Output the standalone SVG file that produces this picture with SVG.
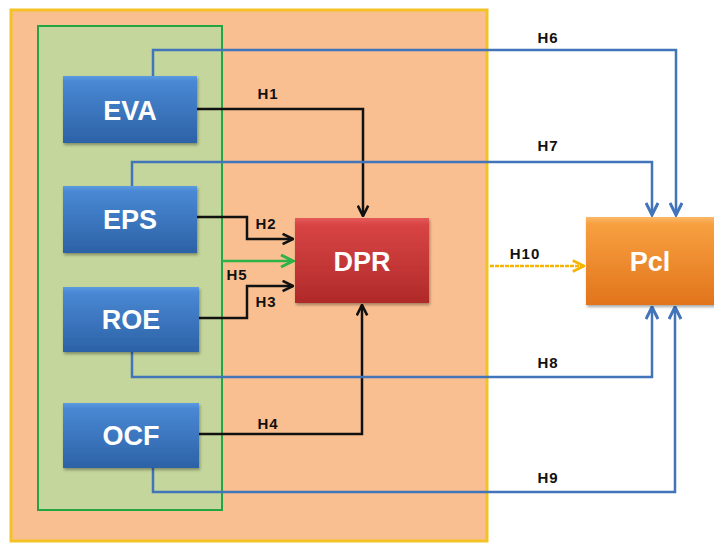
<svg xmlns="http://www.w3.org/2000/svg" width="714" height="544" viewBox="0 0 714 544">
<defs>
<linearGradient id="gBlue" x1="0" y1="0" x2="0" y2="1">
<stop offset="0" stop-color="#5C9BE0"/><stop offset="0.08" stop-color="#4A88D4"/><stop offset="1" stop-color="#2C62A6"/>
</linearGradient>
<linearGradient id="gRed" x1="0" y1="0" x2="0" y2="1">
<stop offset="0" stop-color="#E65A5A"/><stop offset="0.08" stop-color="#D84444"/><stop offset="1" stop-color="#B02A2A"/>
</linearGradient>
<linearGradient id="gOrange" x1="0" y1="0" x2="0" y2="1">
<stop offset="0" stop-color="#FBB868"/><stop offset="0.08" stop-color="#F7A040"/><stop offset="1" stop-color="#E2741C"/>
</linearGradient>
<filter id="sh" x="-10%" y="-10%" width="130%" height="140%">
<feDropShadow dx="1" dy="2" stdDeviation="1.5" flood-color="#000" flood-opacity="0.35"/>
</filter>
<marker id="aBlack" viewBox="0 0 10 10" refX="9" refY="5" markerWidth="13" markerHeight="13" markerUnits="userSpaceOnUse" orient="auto">
<path d="M1,1 L9,5 L1,9" fill="none" stroke="#111" stroke-width="2"/>
</marker>
<marker id="aBlue" viewBox="0 0 10 10" refX="9" refY="5" markerWidth="15" markerHeight="15" markerUnits="userSpaceOnUse" orient="auto">
<path d="M1,1 L9,5 L1,9" fill="none" stroke="#4274BA" stroke-width="2"/>
</marker>
<marker id="aGreen" viewBox="0 0 10 10" refX="9" refY="5" markerWidth="15" markerHeight="15" markerUnits="userSpaceOnUse" orient="auto">
<path d="M1,1 L9,5 L1,9" fill="none" stroke="#2DB34A" stroke-width="2"/>
</marker>
<marker id="aYellow" viewBox="0 0 10 10" refX="9" refY="5" markerWidth="14" markerHeight="14" markerUnits="userSpaceOnUse" orient="auto">
<path d="M1,1 L9,5 L1,9" fill="none" stroke="#F5B400" stroke-width="2"/>
</marker>
</defs>
<style>
.node text{font-family:"Liberation Sans",Arial,sans-serif;font-weight:bold;font-size:27px;fill:#fff;text-anchor:middle;dominant-baseline:central}
.lbl{font-family:"Liberation Sans",Arial,sans-serif;font-weight:bold;font-size:15px;fill:#111;text-anchor:middle;dominant-baseline:central;letter-spacing:1px}
.blk{fill:none;stroke:#111;stroke-width:2.5;marker-end:url(#aBlack)}
.blu{fill:none;stroke:#4274BA;stroke-width:2.5;marker-end:url(#aBlue)}
</style>
<rect width="714" height="544" fill="#fff"/>
<g id="outer">
<rect x="11" y="10" width="476" height="531" fill="#FABF90" stroke="#F5C225" stroke-width="3"/>
</g>
<g id="group">
<rect x="38" y="26" width="184" height="484" fill="#C4D69B" stroke="#23A544" stroke-width="2"/>
</g>
<g id="connectors">
<path class="blk" d="M197,109 H363 V216"/>
<path class="blk" d="M197,217 H247 V239 H293"/>
<path class="blk" d="M199,318 H247 V286 H293"/>
<path class="blk" d="M197,434 H362 V305"/>
<path d="M222,261 H293" fill="none" stroke="#2DB34A" stroke-width="2.5" marker-end="url(#aGreen)"/>
<path class="blu" d="M153,76 V50 H676 V215"/>
<path class="blu" d="M132,186 V162 H652 V215"/>
<path class="blu" d="M132,352 V377 H652 V307"/>
<path class="blu" d="M153,468 V492 H675 V307"/>
<path d="M490,266 H584" fill="none" stroke="#F5B400" stroke-width="2.5" stroke-dasharray="4 1" marker-end="url(#aYellow)"/>
<text class="lbl" x="268" y="93">H1</text>
<text class="lbl" x="266" y="223">H2</text>
<text class="lbl" x="237" y="274">H5</text>
<text class="lbl" x="266" y="301">H3</text>
<text class="lbl" x="268" y="423">H4</text>
<text class="lbl" x="548" y="37">H6</text>
<text class="lbl" x="548" y="145">H7</text>
<text class="lbl" x="525" y="253">H10</text>
<text class="lbl" x="548" y="362">H8</text>
<text class="lbl" x="548" y="477">H9</text>
</g>
<g id="EVA" class="node">
<rect x="63" y="76" width="134" height="67" fill="url(#gBlue)" filter="url(#sh)"/>
<text x="130" y="111">EVA</text>
</g>
<g id="EPS" class="node">
<rect x="63" y="186" width="134" height="67" fill="url(#gBlue)" filter="url(#sh)"/>
<text x="130" y="220">EPS</text>
</g>
<g id="ROE" class="node">
<rect x="63" y="287" width="136" height="65" fill="url(#gBlue)" filter="url(#sh)"/>
<text x="131" y="320">ROE</text>
</g>
<g id="OCF" class="node">
<rect x="63" y="403" width="136" height="65" fill="url(#gBlue)" filter="url(#sh)"/>
<text x="131" y="436">OCF</text>
</g>
<g id="DPR" class="node">
<rect x="295" y="218" width="134" height="85" fill="url(#gRed)" filter="url(#sh)"/>
<text x="362" y="262">DPR</text>
</g>
<g id="Pcl" class="node">
<rect x="586" y="217" width="134" height="88" fill="url(#gOrange)" filter="url(#sh)"/>
<text x="650" y="262">Pcl</text>
</g>
</svg>
